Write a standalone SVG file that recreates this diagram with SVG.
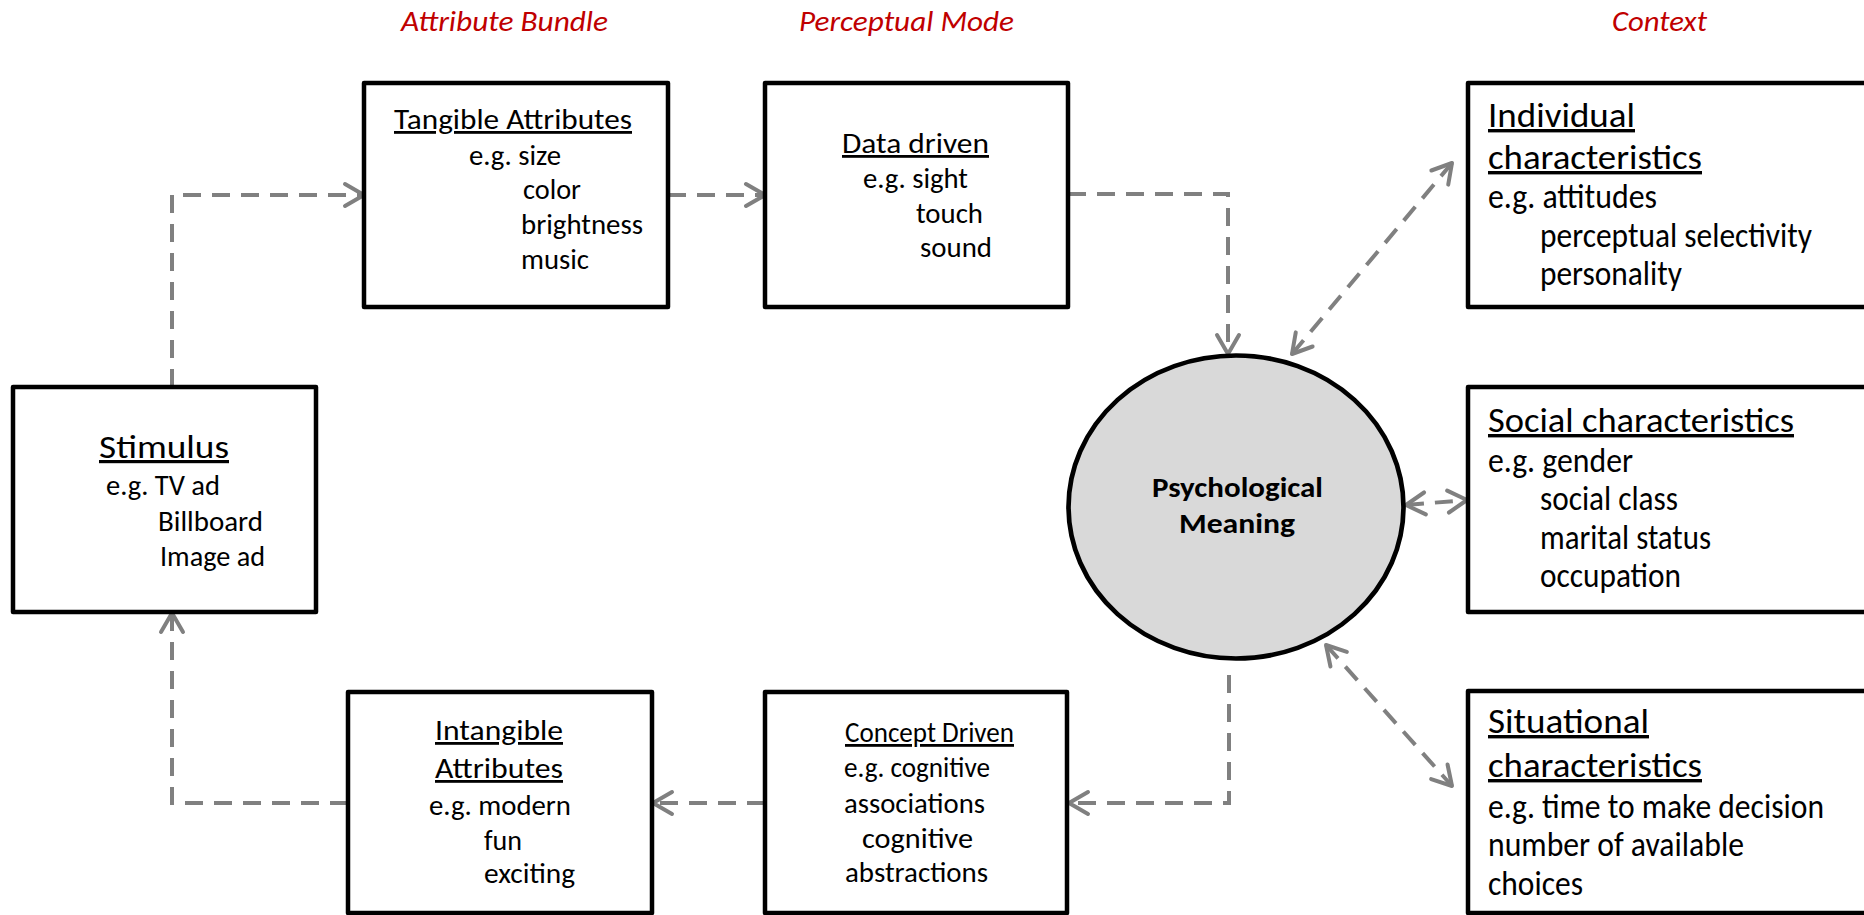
<svg xmlns="http://www.w3.org/2000/svg" width="1864" height="915" viewBox="0 0 1864 915">
  <style>
    .box { fill: #ffffff; stroke: #000000; stroke-width: 4.5; stroke-linejoin: round; }
    .oval { fill: #d9d9d9; stroke: #000000; stroke-width: 4.7; }
    .txt { font-family: Carlito, Calibri, Lato, sans-serif; font-size: 28px; fill: #000000; }
    .mid { font-size: 32px; }
    .big { font-size: 34px; }
    .ttl { text-decoration: underline; }
    .bold { font-weight: bold; }
    .hdr { font-family: Carlito, Calibri, Lato, sans-serif; font-size: 28px; font-style: italic; fill: #c00000; }
    .link { fill: none; stroke: #808080; stroke-width: 4; stroke-dasharray: 18 11; }
  </style>
  <defs>
    <marker id="chev" markerUnits="userSpaceOnUse" markerWidth="30" markerHeight="30" refX="22" refY="13" orient="auto-start-reverse" overflow="visible">
      <path d="M3,2 L22,13 L3,24" fill="none" stroke="#808080" stroke-width="4" stroke-linecap="round" stroke-linejoin="round"/>
    </marker>
  </defs>

  <rect width="1864" height="915" fill="#ffffff"/>

  <!-- column headings -->
  <g id="headings">
    <text class="hdr" x="401" y="31" textLength="207" lengthAdjust="spacingAndGlyphs">Attribute Bundle</text>
    <text class="hdr" x="799" y="31" textLength="215" lengthAdjust="spacingAndGlyphs">Perceptual Mode</text>
    <text class="hdr" x="1612" y="31" textLength="95" lengthAdjust="spacingAndGlyphs">Context</text>
  </g>

  <!-- connectors -->
  <g id="connectors">
    <path class="link" d="M172,387 V195 H364" marker-end="url(#chev)"/>
    <path class="link" d="M668,195 H765" marker-end="url(#chev)"/>
    <path class="link" d="M1068,194 H1228 V354" marker-end="url(#chev)"/>
    <path class="link" d="M1292,354 L1452,163" marker-start="url(#chev)" marker-end="url(#chev)"/>
    <path class="link" d="M1406,505 L1467,500" marker-start="url(#chev)" marker-end="url(#chev)"/>
    <path class="link" d="M1326,645 L1452,786" marker-start="url(#chev)" marker-end="url(#chev)"/>
    <path class="link" d="M1229,675 V803 H1069" marker-end="url(#chev)"/>
    <path class="link" d="M765,803 H653" marker-end="url(#chev)"/>
    <path class="link" d="M348,803 H172 V613" marker-end="url(#chev)"/>
  </g>

  <g id="stimulus">
    <rect class="box" x="13" y="387" width="303" height="225"/>
    <text class="txt mid ttl" x="99" y="458" textLength="130" lengthAdjust="spacingAndGlyphs">Stimulus</text>
    <text class="txt" x="106" y="495" textLength="114" lengthAdjust="spacingAndGlyphs">e.g. TV ad</text>
    <text class="txt" x="158" y="531" textLength="105" lengthAdjust="spacingAndGlyphs">Billboard</text>
    <text class="txt" x="160" y="566" textLength="105" lengthAdjust="spacingAndGlyphs">Image ad</text>
  </g>

  <g id="tangible">
    <rect class="box" x="364" y="83" width="304" height="224"/>
    <text class="txt ttl" x="394" y="129" textLength="238" lengthAdjust="spacingAndGlyphs">Tangible Attributes</text>
    <text class="txt" x="469" y="165" textLength="92" lengthAdjust="spacingAndGlyphs">e.g. size</text>
    <text class="txt" x="523" y="199" textLength="58" lengthAdjust="spacingAndGlyphs">color</text>
    <text class="txt" x="521" y="234" textLength="122" lengthAdjust="spacingAndGlyphs">brightness</text>
    <text class="txt" x="521" y="269" textLength="68" lengthAdjust="spacingAndGlyphs">music</text>
  </g>

  <g id="data-driven">
    <rect class="box" x="765" y="83" width="303" height="224"/>
    <text class="txt ttl" x="842" y="153" textLength="147" lengthAdjust="spacingAndGlyphs">Data driven</text>
    <text class="txt" x="863" y="188" textLength="105" lengthAdjust="spacingAndGlyphs">e.g. sight</text>
    <text class="txt" x="916" y="223" textLength="67" lengthAdjust="spacingAndGlyphs">touch</text>
    <text class="txt" x="920" y="257" textLength="72" lengthAdjust="spacingAndGlyphs">sound</text>
  </g>

  <g id="psychological-meaning">
    <ellipse class="oval" cx="1236" cy="507" rx="167.5" ry="151.5"/>
    <text class="txt bold" x="1152" y="497" textLength="171" lengthAdjust="spacingAndGlyphs">Psychological</text>
    <text class="txt bold" x="1179" y="533" textLength="116" lengthAdjust="spacingAndGlyphs">Meaning</text>
  </g>

  <g id="individual">
    <rect class="box" x="1468" y="83" width="420" height="224"/>
    <text class="txt big ttl" x="1488" y="127" textLength="147" lengthAdjust="spacingAndGlyphs">Individual</text>
    <text class="txt big ttl" x="1488" y="169" textLength="214" lengthAdjust="spacingAndGlyphs">characteristics</text>
    <text class="txt big" x="1488" y="208" textLength="169" lengthAdjust="spacingAndGlyphs">e.g. attitudes</text>
    <text class="txt big" x="1540" y="247" textLength="272" lengthAdjust="spacingAndGlyphs">perceptual selectivity</text>
    <text class="txt big" x="1540" y="285" textLength="142" lengthAdjust="spacingAndGlyphs">personality</text>
  </g>

  <g id="social">
    <rect class="box" x="1468" y="387" width="420" height="225"/>
    <text class="txt big ttl" x="1488" y="432" textLength="306" lengthAdjust="spacingAndGlyphs">Social characteristics</text>
    <text class="txt big" x="1488" y="472" textLength="145" lengthAdjust="spacingAndGlyphs">e.g. gender</text>
    <text class="txt big" x="1540" y="510" textLength="138" lengthAdjust="spacingAndGlyphs">social class</text>
    <text class="txt big" x="1540" y="549" textLength="171" lengthAdjust="spacingAndGlyphs">marital status</text>
    <text class="txt big" x="1540" y="587" textLength="141" lengthAdjust="spacingAndGlyphs">occupation</text>
  </g>

  <g id="situational">
    <rect class="box" x="1468" y="691" width="420" height="222"/>
    <text class="txt big ttl" x="1488" y="733" textLength="161" lengthAdjust="spacingAndGlyphs">Situational</text>
    <text class="txt big ttl" x="1488" y="777" textLength="214" lengthAdjust="spacingAndGlyphs">characteristics</text>
    <text class="txt big" x="1488" y="818" textLength="336" lengthAdjust="spacingAndGlyphs">e.g. time to make decision</text>
    <text class="txt big" x="1488" y="856" textLength="256" lengthAdjust="spacingAndGlyphs">number of available</text>
    <text class="txt big" x="1488" y="895" textLength="95" lengthAdjust="spacingAndGlyphs">choices</text>
  </g>

  <g id="intangible">
    <rect class="box" x="348" y="692" width="304" height="221"/>
    <text class="txt ttl" x="435" y="740" textLength="128" lengthAdjust="spacingAndGlyphs">Intangible</text>
    <text class="txt ttl" x="435" y="778" textLength="128" lengthAdjust="spacingAndGlyphs">Attributes</text>
    <text class="txt" x="429" y="815" textLength="142" lengthAdjust="spacingAndGlyphs">e.g. modern</text>
    <text class="txt" x="484" y="850" textLength="38" lengthAdjust="spacingAndGlyphs">fun</text>
    <text class="txt" x="484" y="883" textLength="91" lengthAdjust="spacingAndGlyphs">exciting</text>
  </g>

  <g id="concept-driven">
    <rect class="box" x="765" y="692" width="302" height="221"/>
    <text class="txt ttl" x="845" y="742" textLength="169" lengthAdjust="spacingAndGlyphs">Concept Driven</text>
    <text class="txt" x="844" y="777" textLength="146" lengthAdjust="spacingAndGlyphs">e.g. cognitive</text>
    <text class="txt" x="844" y="813" textLength="141" lengthAdjust="spacingAndGlyphs">associations</text>
    <text class="txt" x="862" y="848" textLength="111" lengthAdjust="spacingAndGlyphs">cognitive</text>
    <text class="txt" x="845" y="882" textLength="143" lengthAdjust="spacingAndGlyphs">abstractions</text>
  </g>
</svg>
